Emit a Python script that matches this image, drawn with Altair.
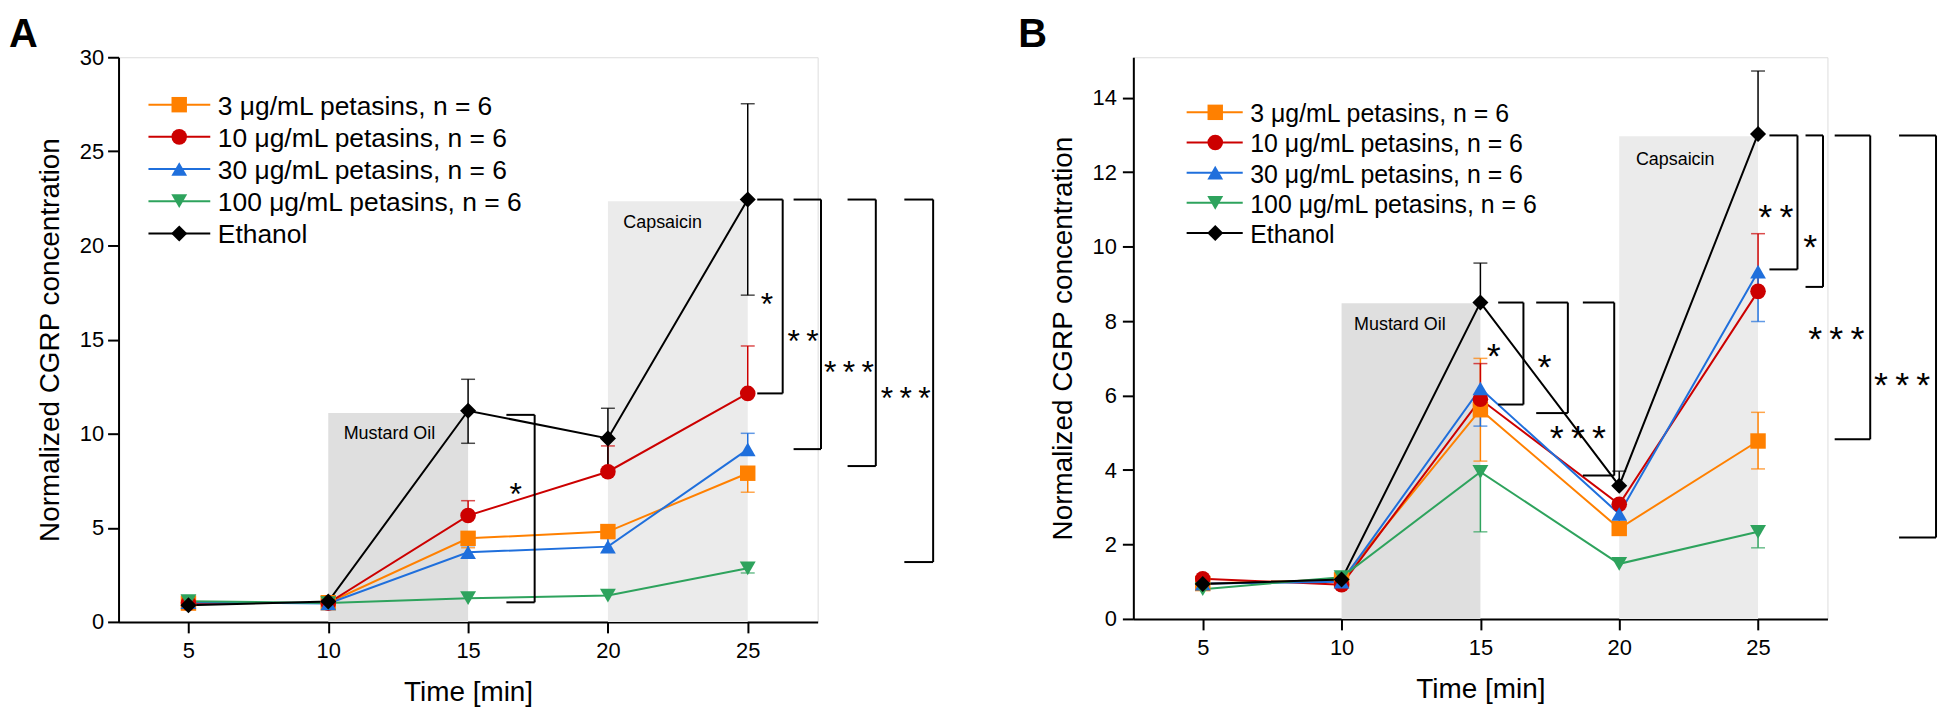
import altair as alt
import pandas as pd

FONT = "Liberation Sans"
TIMES = [5, 10, 15, 20, 25]
SERIES = ["3 μg/mL petasins, n = 6", "10 μg/mL petasins, n = 6",
          "30 μg/mL petasins, n = 6", "100 μg/mL petasins, n = 6", "Ethanol"]
COLORS = ["#FF8000", "#CC0000", "#1F6FDC", "#2EA35D", "#000000"]
SHAPES = ["square", "circle", "triangle-up", "triangle-down", "diamond"]
SIZES = [240, 260, 330, 330, 350]

# ---------------- Panel A ----------------
A_P3 = [1.00, 1.02, 4.44, 4.80, 7.90]
A_P10 = [1.00, 1.00, 5.65, 7.98, 12.14]
A_P30 = [1.05, 0.98, 3.70, 4.00, 9.17]
A_P100 = [1.10, 1.00, 1.26, 1.40, 2.85]
A_ETH = [0.88, 1.08, 11.22, 9.75, 22.44]
A_P3_UP = [0, 0, 0, 0, 0]
A_P10_UP = [0, 0, 0.79, 1.37, 2.52]
A_P30_UP = [0, 0, 0.35, 0.44, 0.85]
A_P100_UP = [0, 0, 0, 0, 0]
A_ETH_UP = [0, 0, 1.67, 1.60, 5.09]
A_P3_DN = [0, 0, 0.50, 0, 1.01]
A_P10_DN = [0, 0, 0, 0, 0]
A_P30_DN = [0, 0, 0, 0, 0]
A_P100_DN = [0, 0, 0, 0, 0.25]
A_ETH_DN = [0, 0, 1.73, 1.65, 5.08]
A_STIM_NAMES = ["Mustard Oil", "Capsaicin"]
A_STIM_START = [10, 20]
A_STIM_END = [15, 25]
A_STIM_TOP = [11.1, 22.35]
A_STIM_LX = [10.55, 20.55]
A_STIM_LY = [10.0, 21.2]
# brackets: start x, vertical x, top y, bottom y, label, label x, label y
A_BR_XS = [16.37, 25.34, 26.64, 28.57, 30.60]
A_BR_XV = [17.38, 26.25, 27.62, 29.58, 31.63]
A_BR_YT = [11.0, 22.44, 22.44, 22.44, 22.44]
A_BR_YB = [1.04, 12.14, 9.18, 8.28, 3.18]
A_BR_LAB = ["*", "*", "**", "***", "***"]
A_BR_LX = [16.70, 25.69, 26.98, 28.62, 30.65]
A_BR_LY = [7.15, 17.27, 15.30, 13.66, 12.26]

# ---------------- Panel B ----------------
B_P3 = [0.95, 1.05, 5.62, 2.43, 4.78]
B_P10 = [1.08, 0.92, 5.90, 3.08, 8.80]
B_P30 = [0.95, 1.00, 6.19, 2.82, 9.33]
B_P100 = [0.80, 1.12, 3.95, 1.48, 2.34]
B_ETH = [0.94, 1.06, 8.50, 3.58, 13.03]
B_P3_UP = [0, 0, 1.38, 0, 0.77]
B_P10_UP = [0, 0, 0.96, 0, 1.55]
B_P30_UP = [0, 0, 0, 0, 0]
B_P100_UP = [0, 0, 0, 0, 0]
B_ETH_UP = [0, 0, 1.06, 0.39, 1.69]
B_P3_DN = [0, 0, 1.38, 0.16, 0.75]
B_P10_DN = [0, 0, 0, 0, 0]
B_P30_DN = [0, 0, 1.01, 0.35, 1.34]
B_P100_DN = [0, 0, 1.61, 0, 0.43]
B_ETH_DN = [0, 0, 0, 0, 0]
B_STIM_NAMES = ["Mustard Oil", "Capsaicin"]
B_STIM_START = [10, 20]
B_STIM_END = [15, 25]
B_STIM_TOP = [8.48, 12.97]
B_STIM_LX = [10.45, 20.6]
B_STIM_LY = [7.89, 12.33]
B_BR_XS = [15.64, 17.01, 18.69, 25.41, 26.71, 27.76, 30.08]
B_BR_XV = [16.55, 18.15, 19.82, 26.42, 27.34, 29.04, 31.41]
B_BR_YT = [8.50, 8.50, 8.50, 12.99, 12.99, 12.99, 12.99]
B_BR_YB = [5.76, 5.53, 3.85, 9.39, 8.92, 4.83, 2.19]
B_BR_LAB = ["*", "*", "***", "**", "*", "***", "***"]
B_BR_LX = [15.48, 17.31, 18.51, 25.64, 26.88, 27.82, 30.19]
B_BR_LY = [7.30, 7.02, 5.11, 11.05, 10.22, 7.77, 6.53]

STIM_FILLS = ["#DFDFDF", "#EBEBEB"]


def build_panel(means, ups, dns, stim, brackets, leg, letter, yvals, ydom,
                width, height, star_fs, leg_fs, ylabpad):
    xs = alt.Scale(domain=[2.5, 27.5], nice=False, zero=False)
    ys = alt.Scale(domain=ydom, nice=False, zero=False)
    common = dict(grid=False, domainColor="black", tickColor="black",
                  domainWidth=2, tickWidth=2, tickSize=11,
                  labelFont=FONT, titleFont=FONT, labelFontSize=22,
                  titleFontSize=28, titleFontWeight="normal",
                  labelColor="black", titleColor="black")
    xaxis = alt.Axis(values=TIMES, title="Time [min]", labelPadding=8,
                     titlePadding=17, format="d", **common)
    yaxis = alt.Axis(values=yvals, title="Normalized CGRP concentration",
                     labelPadding=ylabpad, titlePadding=15, format="d", **common)

    def X(f):
        return alt.X(f, type="quantitative", scale=xs, axis=xaxis)

    def Y(f):
        return alt.Y(f, type="quantitative", scale=ys, axis=yaxis)

    color = alt.Color("series:N", scale=alt.Scale(domain=SERIES, range=COLORS), legend=None)
    shape = alt.Shape("series:N", scale=alt.Scale(domain=SERIES, range=SHAPES), legend=None)
    size = alt.Size("series:N", scale=alt.Scale(domain=SERIES, range=SIZES), legend=None)

    pts, errs, caps = [], [], []
    for s, m, u, d in zip(SERIES, means, ups, dns):
        for t, v, eu, ed in zip(TIMES, m, u, d):
            pts.append({"series": s, "t": t, "v": v})
            if eu > 0:
                errs.append({"series": s, "t": t, "v0": v, "v1": v + eu})
                caps.append({"series": s, "t": t, "ve": v + eu})
            if ed > 0:
                errs.append({"series": s, "t": t, "v0": v, "v1": v - ed})
                caps.append({"series": s, "t": t, "ve": v - ed})
    pts = pd.DataFrame(pts)
    errs = pd.DataFrame(errs)
    caps = pd.DataFrame(caps)

    names, x0, x1, top, lx, ly = stim
    stim_df = pd.DataFrame({"name": names, "x0": x0, "x1": x1, "y0": [0, 0],
                            "top": top, "lx": lx, "ly": ly, "fill": STIM_FILLS})

    bxs, bxv, byt, byb, blab, blx, bly = brackets
    segs = []
    for a, b, c, d in zip(bxs, bxv, byt, byb):
        segs.append({"xa": a, "xb": b, "ya": c, "yb": c})
        segs.append({"xa": b, "xb": b, "ya": c, "yb": d})
        segs.append({"xa": a, "xb": b, "ya": d, "yb": d})
    segs = pd.DataFrame(segs)
    stars = pd.DataFrame({"lab": [l.replace("*", "*\u2009").strip() for l in blab],
                          "lx": blx, "ly": bly})

    lx0, lx1, lxm, lxt, ly0, lstep = leg
    leg_df = pd.DataFrame({"series": SERIES,
                           "x0": [lx0] * 5, "x1": [lx1] * 5, "xm": [lxm] * 5,
                           "xt": [lxt] * 5,
                           "y": [ly0 - i * lstep for i in range(5)]})

    rect = alt.Chart(stim_df).mark_rect().encode(
        x=X("x0"), x2="x1", y=Y("y0"), y2="top",
        color=alt.Color("fill:N", scale=None))
    stim_txt = alt.Chart(stim_df).mark_text(
        align="left", baseline="middle", font=FONT, fontSize=18, color="black"
    ).encode(x=X("lx"), y=Y("ly"), text="name:N")

    err_rule = alt.Chart(errs).mark_rule(strokeWidth=1.5).encode(
        x=X("t"), y=Y("v0"), y2="v1", color=color)
    err_cap = alt.Chart(caps).mark_tick(orient="horizontal", size=14, thickness=1.5).encode(
        x=X("t"), y=Y("ve"), color=color)
    lines = alt.Chart(pts).mark_line(strokeWidth=2).encode(
        x=X("t"), y=Y("v"), color=color)
    points = alt.Chart(pts).mark_point(filled=True, opacity=1, strokeWidth=0).encode(
        x=X("t"), y=Y("v"), color=color, shape=shape, size=size)

    br = alt.Chart(segs).mark_rule(strokeWidth=2, color="black", clip=False).encode(
        x=X("xa"), x2="xb", y=Y("ya"), y2="yb")
    st = alt.Chart(stars).mark_text(
        align="center", baseline="alphabetic", font=FONT, fontSize=star_fs,
        dy=round(0.57 * star_fs), color="black", clip=False
    ).encode(x=X("lx"), y=Y("ly"), text="lab:N")

    leg_line = alt.Chart(leg_df).mark_rule(strokeWidth=2).encode(
        x=X("x0"), x2="x1", y=Y("y"), color=color)
    leg_pt = alt.Chart(leg_df).mark_point(filled=True, opacity=1, strokeWidth=0).encode(
        x=X("xm"), y=Y("y"), color=color, shape=shape, size=size)
    leg_txt = alt.Chart(leg_df).mark_text(
        align="left", baseline="middle", font=FONT, fontSize=leg_fs, dy=2, color="black"
    ).encode(x=X("xt"), y=Y("y"), text="series:N")

    let = alt.Chart(pd.DataFrame({"k": [letter[0]]})).mark_text(
        align="left", baseline="top", font=FONT, fontSize=40, fontWeight="bold",
        color="black"
    ).encode(x=alt.value(letter[1]), y=alt.value(letter[2]), text="k:N")

    return alt.layer(rect, stim_txt, err_rule, err_cap, lines, points, br, st,
                     leg_line, leg_pt, leg_txt, let).properties(width=width, height=height)


panelA = build_panel(
    [A_P3, A_P10, A_P30, A_P100, A_ETH],
    [A_P3_UP, A_P10_UP, A_P30_UP, A_P100_UP, A_ETH_UP],
    [A_P3_DN, A_P10_DN, A_P30_DN, A_P100_DN, A_ETH_DN],
    (A_STIM_NAMES, A_STIM_START, A_STIM_END, A_STIM_TOP, A_STIM_LX, A_STIM_LY),
    (A_BR_XS, A_BR_XV, A_BR_YT, A_BR_YB, A_BR_LAB, A_BR_LX, A_BR_LY),
    (3.57, 5.78, 4.67, 6.05, 27.48, 1.71),
    ("A", -110, -42),
    [0, 5, 10, 15, 20, 25, 30], [0, 30], 702, 567, 32, 26.5, 4)

panelB = build_panel(
    [B_P3, B_P10, B_P30, B_P100, B_ETH],
    [B_P3_UP, B_P10_UP, B_P30_UP, B_P100_UP, B_ETH_UP],
    [B_P3_DN, B_P10_DN, B_P30_DN, B_P100_DN, B_ETH_DN],
    (B_STIM_NAMES, B_STIM_START, B_STIM_END, B_STIM_TOP, B_STIM_LX, B_STIM_LY),
    (B_BR_XS, B_BR_XV, B_BR_YT, B_BR_YB, B_BR_LAB, B_BR_LX, B_BR_LY),
    (4.42, 6.44, 5.45, 6.71, 13.61, 0.81),
    ("B", -115.6, -42),
    [0, 2, 4, 6, 8, 10, 12, 14], [0, 15.09], 697, 564, 36, 25, 6)

chart = alt.hconcat(panelA, panelB, spacing=82).properties(
    padding={"left": 0, "top": 5, "right": 0, "bottom": 0}
).configure_view(stroke=None).configure(background="white")

chart.save("out.html", embed_options={"renderer": "svg", "actions": False})
